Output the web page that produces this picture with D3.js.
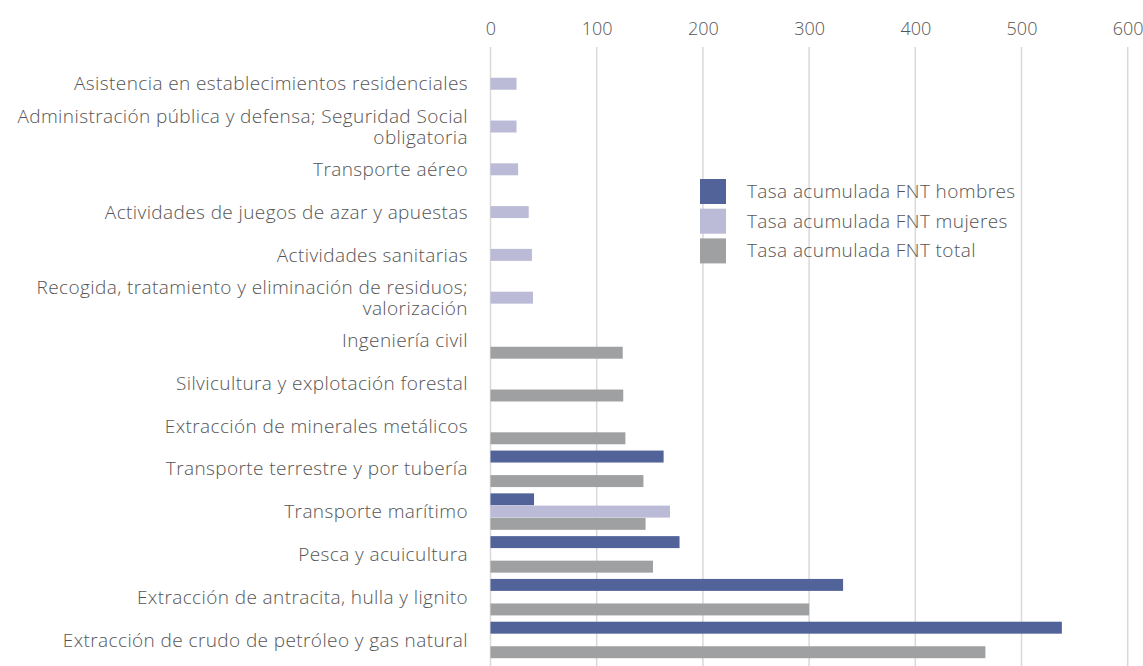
<!DOCTYPE html>
<html>
<head>
<meta charset="utf-8">
<script src="https://cdn.jsdelivr.net/npm/d3@7"></script>
<style>
  html, body { margin: 0; padding: 0; background: #fff; }
  svg { display: block; }
  text { font-family: "Open Sans", "Lato", sans-serif; font-weight: 300; fill: #555; }
</style>
</head>
<body>
<svg id="chart" width="1143" height="666"></svg>
<script>
const categories = [
  "Asistencia en establecimientos residenciales",
  "Administración pública y defensa; Seguridad Social|obligatoria",
  "Transporte aéreo",
  "Actividades de juegos de azar y apuestas",
  "Actividades sanitarias",
  "Recogida, tratamiento y eliminación de residuos;|valorización",
  "Ingeniería civil",
  "Silvicultura y explotación forestal",
  "Extracción de minerales metálicos",
  "Transporte terrestre y por tubería",
  "Transporte marítimo",
  "Pesca y acuicultura",
  "Extracción de antracita, hulla y lignito",
  "Extracción de crudo de petróleo y gas natural"
]
const hombres = [null, null, null, null, null, null, null, null, null, 163, 41, 178, 332, 538]
const mujeres = [24.5, 24.5, 26, 36, 39, 40, null, null, null, null, 169, null, null, null]
const total   = [null, null, null, null, null, null, 124.5, 125, 127, 144, 146, 153, 300, 466]
const seriesNames = ["Tasa acumulada FNT hombres", "Tasa acumulada FNT mujeres", "Tasa acumulada FNT total"]
const seriesColors = ["#526399", "#bbbbd7", "#9fa0a1"]
const xTicks = [0, 100, 200, 300, 400, 500, 600]

const svg = d3.select("#chart")

const x = d3.scaleLinear().domain([0, 600]).range([490.5, 1127.7])
const y = d3.scaleBand().domain(categories).range([62.5, 661.5]).paddingInner(0.14).paddingOuter(0.07)
const sub = d3.scaleBand().domain([0, 1, 2]).range([0, y.bandwidth()])

// gridlines
svg.append("g").selectAll("line")
  .data(xTicks).enter().append("line")
  .attr("x1", d => x(d)).attr("x2", d => x(d))
  .attr("y1", 47).attr("y2", 666)
  .attr("stroke", "#d9d9d9").attr("stroke-width", 1.5)

// top axis labels
const axis = svg.append("g")
  .attr("transform", "translate(0,35)")
  .call(d3.axisTop(x).tickValues(xTicks).tickSize(0).tickPadding(0))
axis.select(".domain").remove()
axis.selectAll("text")
  .attr("font-size", 18).attr("fill", "#666")
  .style("font-family", '"Open Sans", "Lato", sans-serif').style("font-weight", 300)

// bars
const rows = categories.map((c, i) => ({ cat: c, vals: [hombres[i], mujeres[i], total[i]] }))
const grp = svg.append("g").selectAll("g")
  .data(rows).enter().append("g")
  .attr("transform", d => `translate(0,${y(d.cat)})`)

grp.selectAll("rect")
  .data(d => d.vals.map((v, k) => ({ v, k })).filter(e => e.v != null))
  .enter().append("rect")
  .attr("x", x(0))
  .attr("y", d => sub(d.k))
  .attr("width", d => x(d.v) - x(0))
  .attr("height", sub.bandwidth() - 0.3)
  .attr("fill", d => seriesColors[d.k])

// category labels (two-line ones split on "|")
const lab = svg.append("g").selectAll("text")
  .data(categories).enter().append("text")
  .attr("text-anchor", "end")
  .attr("font-size", 19)
  .attr("letter-spacing", 0.4)
  .attr("x", 468)
  .attr("y", d => y(d) + y.bandwidth() / 2)

lab.each(function(d) {
  const lines = d.split("|")
  const t = d3.select(this)
  lines.forEach((ln, j) => {
    t.append("tspan")
      .attr("x", 468)
      .attr("dy", j === 0 ? (-(lines.length - 1) * 10.5 + 6.5) : 21)
      .text(ln)
  })
})

// legend
const leg = svg.append("g").selectAll("g")
  .data(seriesNames).enter().append("g")
  .attr("transform", (d, i) => `translate(700,${179 + i * 29.7})`)
leg.append("rect").attr("width", 26).attr("height", 25).attr("fill", (d, i) => seriesColors[i])
leg.append("text").attr("x", 47).attr("y", 19).attr("font-size", 19)
  .attr("letter-spacing", 0.4).text(d => d)
</script>
</body>
</html>
